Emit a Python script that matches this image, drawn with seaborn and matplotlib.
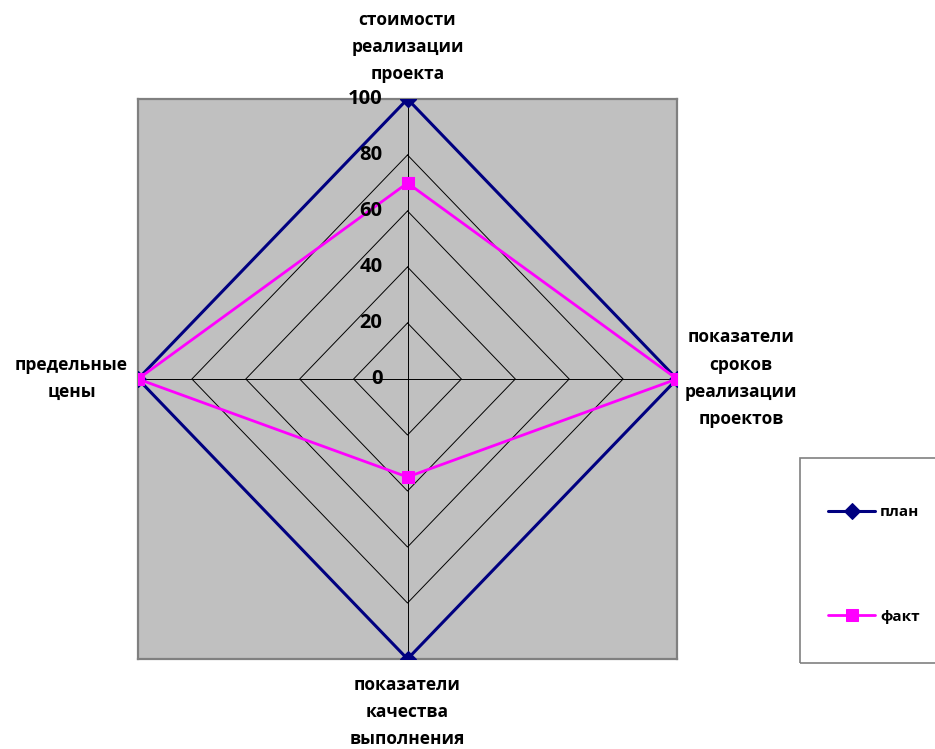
import numpy as np
import pandas as pd
import matplotlib
matplotlib.use("Agg")
import matplotlib.pyplot as plt
from matplotlib.patches import Rectangle
import seaborn as sns

# Radar axes, clockwise from the top
categories = [
    "стоимости\nреализации\nпроекта",
    "показатели\nсроков\nреализации\nпроектов",
    "показатели\nкачества\nвыполнения",
    "предельные\nцены",
]
plan = [100, 100, 100, 100]
fact = [70, 100, 35, 100]
series_names = ["план", "факт"]
ring_values = [0, 20, 40, 60, 80, 100]

sns.set_style("white")
plt.rcParams["font.family"] = ["Open Sans", "DejaVu Sans"]
plt.rcParams["font.weight"] = "bold"
plt.rcParams["text.color"] = "black"

W, H = 935, 749
fig = plt.figure(figsize=(W / 100, H / 100), dpi=100)
ax = fig.add_axes([138 / W, (H - 659) / H, 539 / W, 560 / H])
ax.set_facecolor("#C0C0C0")
for sp in ax.spines.values():
    sp.set_color("#808080")
    sp.set_linewidth(1.6)
ax.set_xlim(-100, 100)
ax.set_ylim(-100, 100)
ax.set_xticks([])
ax.set_yticks([])

# angle of each axis (clockwise from 12 o'clock)
angles = np.pi / 2 - np.arange(len(categories)) * 2 * np.pi / len(categories)
cosa, sina = np.cos(angles), np.sin(angles)


def to_xy(values):
    v = np.asarray(values, dtype=float)
    x = np.append(v * cosa, v[0] * cosa[0])
    y = np.append(v * sina, v[0] * sina[0])
    return x, y


# grid rings and spokes
for r in ring_values[1:]:
    gx, gy = to_xy([r] * len(categories))
    ax.plot(gx, gy, color="black", lw=0.7, zorder=1)
rmax = ring_values[-1]
for c, s in zip(cosa, sina):
    ax.plot([0, rmax * c], [0, rmax * s], color="black", lw=0.7, zorder=1)

# series
px, py = to_xy(plan)
fx, fy = to_xy(fact)
df_plan = pd.DataFrame({"x": px, "y": py})
df_fact = pd.DataFrame({"x": fx, "y": fy})
sns.lineplot(data=df_plan, x="x", y="y", sort=False, estimator=None, ax=ax,
             color="#000080", lw=2.2, marker="D", markersize=8,
             markeredgecolor="#000080", label=series_names[0], zorder=3)
sns.lineplot(data=df_fact, x="x", y="y", sort=False, estimator=None, ax=ax,
             color="#FF00FF", lw=2.0, marker="s", markersize=9,
             markeredgecolor="#FF00FF", label=series_names[1], zorder=4)
ax.set_xlabel("")
ax.set_ylabel("")
handles, labels = ax.get_legend_handles_labels()
ax.get_legend().remove()

# ring value labels along the top axis
for r in ring_values:
    ax.annotate(str(r), xy=(r * cosa[0], r * sina[0]), xytext=(-18, 0),
                textcoords="offset points", ha="right", va="center",
                fontsize=14.5, fontweight="bold", color="black",
                annotation_clip=False, zorder=5)

# category labels
offsets = [(0, 37.4), (5.8, 0.5), (0, -38.2), (-7.2, 0.5)]
aligns = [("center", "center"), ("left", "center"), ("center", "center"), ("right", "center")]
for lab, c, s, off, (ha, va) in zip(categories, cosa, sina, offsets, aligns):
    ax.annotate(lab, xy=(rmax * c, rmax * s), xytext=off, textcoords="offset points",
                ha=ha, va=va, multialignment="center", fontsize=12.5,
                fontweight="bold", color="black", linespacing=1.66,
                annotation_clip=False)

# legend box with its two entries
fig.patches.append(Rectangle((800 / W, (H - 663) / H), 140 / W, 205 / H,
                             transform=fig.transFigure, fill=False,
                             edgecolor="#808080", lw=1.2))
leg = fig.legend(handles, labels, loc="upper left",
                 bbox_to_anchor=(828 / W, (H - 505) / H),
                 borderaxespad=0, borderpad=0, frameon=False,
                 labelspacing=5.93, handlelength=3.1, handletextpad=0.3,
                 prop={"weight": "bold", "size": 11})
for t in leg.get_texts():
    t.set_color("black")

fig.savefig("out.png", dpi=100, facecolor="white")
